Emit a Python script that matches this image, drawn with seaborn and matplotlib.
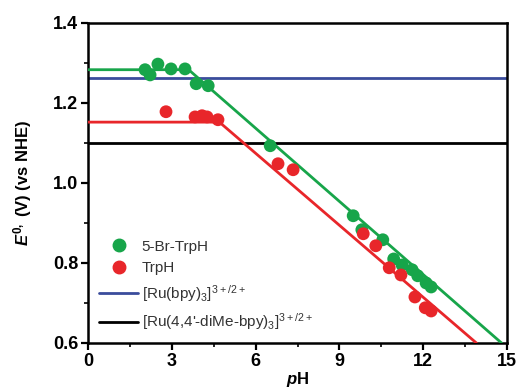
import matplotlib
matplotlib.use("Agg")
import matplotlib.pyplot as plt
from matplotlib.lines import Line2D
from matplotlib.ticker import MultipleLocator
import seaborn as sns
import pandas as pd

# --- data ---
br_ph = [2.04, 2.22, 2.5, 2.97, 3.47, 3.87, 4.3, 6.52, 9.49, 9.8, 10.55,
         10.94, 11.24, 11.6, 11.8, 12.1, 12.28]
br_E = [1.283, 1.27, 1.297, 1.285, 1.285, 1.248, 1.243, 1.093, 0.918, 0.883,
        0.858, 0.81, 0.795, 0.783, 0.768, 0.75, 0.74]

trp_ph = [2.79, 3.83, 4.08, 4.26, 4.65, 6.8, 7.34, 9.85, 10.3, 10.78, 11.2,
          11.7, 12.07, 12.28]
trp_E = [1.178, 1.165, 1.168, 1.165, 1.158, 1.048, 1.033, 0.873, 0.843,
         0.788, 0.77, 0.715, 0.688, 0.68]

# fitted Pourbaix lines (plateau, break, end)
br_fit_ph = [0, 3.6, 14.8]
br_fit_E = [1.283, 1.283, 0.6]
trp_fit_ph = [0, 4.7, 13.9]
trp_fit_E = [1.152, 1.152, 0.6]

ru_bpy_E = 1.262
ru_dime_E = 1.10

GREEN = "#17a54a"
RED = "#e8262a"
BLUE = "#3a4c9c"

sns.set_theme(style="white")
plt.rcParams["font.family"] = ["Liberation Sans", "DejaVu Sans"]
plt.rcParams["mathtext.fontset"] = "custom"
plt.rcParams["mathtext.rm"] = "Liberation Sans"
plt.rcParams["mathtext.it"] = "Liberation Sans:italic:bold"
plt.rcParams["mathtext.bf"] = "Liberation Sans:bold"
plt.rcParams["text.color"] = "black"
plt.rcParams["axes.labelcolor"] = "black"
plt.rcParams["xtick.color"] = "black"
plt.rcParams["ytick.color"] = "black"

fig = plt.figure(figsize=(5.18, 3.88), dpi=100)
ax = fig.add_axes([0.17, 0.116, 0.809, 0.825])

ax.axhline(ru_bpy_E, color=BLUE, lw=2.0, zorder=2)
ax.axhline(ru_dime_E, color="black", lw=2.0, zorder=2)

df_br_fit = pd.DataFrame({"pH": br_fit_ph, "E": br_fit_E})
df_trp_fit = pd.DataFrame({"pH": trp_fit_ph, "E": trp_fit_E})
sns.lineplot(data=df_br_fit, x="pH", y="E", sort=False, color=GREEN, lw=2.0, ax=ax, zorder=3)
sns.lineplot(data=df_trp_fit, x="pH", y="E", sort=False, color=RED, lw=2.0, ax=ax, zorder=3)

sns.scatterplot(x=br_ph, y=br_E, color=GREEN, s=85, edgecolor="none", ax=ax, zorder=4)
sns.scatterplot(x=trp_ph, y=trp_E, color=RED, s=85, edgecolor="none", ax=ax, zorder=5)

ax.set_xlim(0, 15)
ax.set_ylim(0.6, 1.4)
ax.xaxis.set_major_locator(MultipleLocator(3))
ax.xaxis.set_minor_locator(MultipleLocator(1.5))
ax.yaxis.set_major_locator(MultipleLocator(0.2))
ax.yaxis.set_minor_locator(MultipleLocator(0.1))
ax.set_xticklabels([f"{int(v)}" for v in ax.get_xticks()])
ax.set_yticklabels([f"{v:.1f}" for v in ax.get_yticks()])
ax.tick_params(which="major", direction="out", length=5, width=1.6,
               labelsize=13, bottom=True, left=True, pad=2)
ax.tick_params(which="minor", direction="out", length=3, width=1.2,
               bottom=True, left=True)
for lab in ax.get_xticklabels() + ax.get_yticklabels():
    lab.set_fontweight("bold")
for sp in ax.spines.values():
    sp.set_linewidth(1.8)
    sp.set_color("black")

ax.set_xlabel("$p$H", fontsize=12, fontweight="bold", labelpad=0)
ax.set_ylabel(r"$E^{\mathbf{0,}}$ (V) (vs NHE)", fontsize=12,
              fontweight="bold", labelpad=14)

handles = [
    Line2D([], [], marker="o", ls="none", color=GREEN, markersize=9),
    Line2D([], [], marker="o", ls="none", color=RED, markersize=9),
    Line2D([], [], color=BLUE, lw=2),
    Line2D([], [], color="black", lw=2),
]
labels = ["5-Br-TrpH", "TrpH",
          r"[Ru(bpy)$_3$]$^{3+/2+}$",
          r"[Ru(4,4'-diMe-bpy)$_3$]$^{3+/2+}$"]
ax.legend(handles, labels, loc="lower left", bbox_to_anchor=(0.0, 0.0),
          frameon=False, fontsize=11, handlelength=2.6, labelspacing=0.5,
          handletextpad=0.2, borderaxespad=0.3, labelcolor="#333333")

fig.savefig("out.png", dpi=100)
